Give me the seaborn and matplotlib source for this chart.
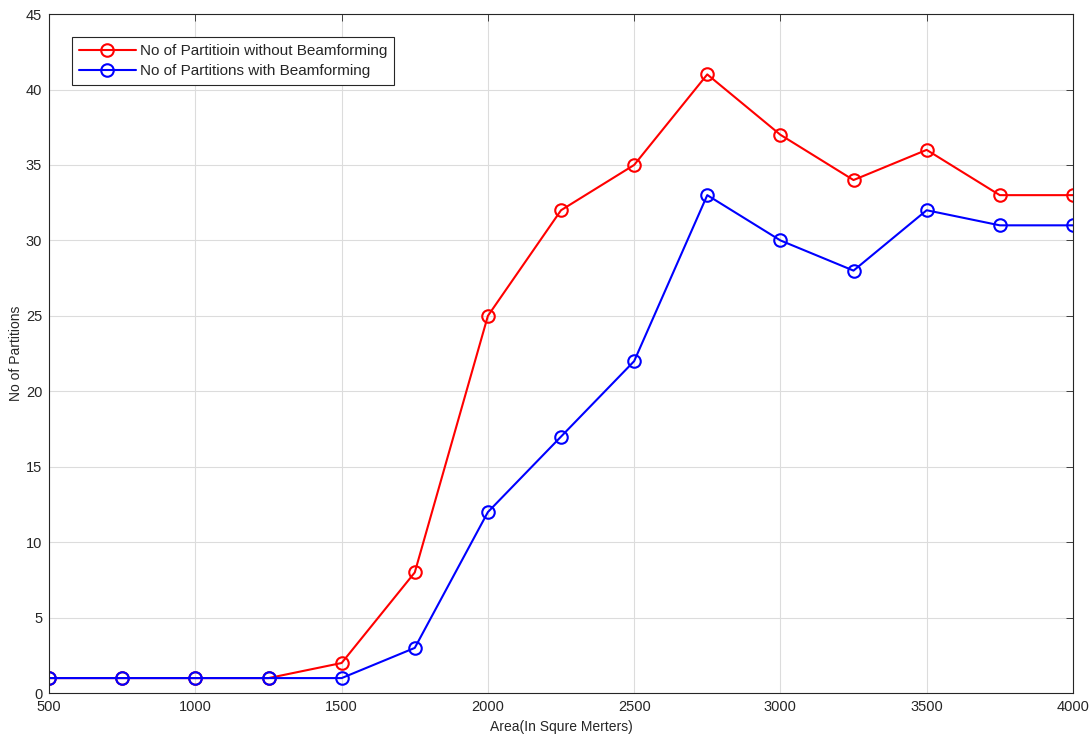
import matplotlib
matplotlib.use("Agg")
import matplotlib.pyplot as plt
import pandas as pd
import seaborn as sns

area = [500, 750, 1000, 1250, 1500, 1750, 2000, 2250, 2500, 2750, 3000, 3250, 3500, 3750, 4000]
without_bf = [1, 1, 1, 1, 2, 8, 25, 32, 35, 41, 37, 34, 36, 33, 33]
with_bf = [1, 1, 1, 1, 1, 3, 12, 17, 22, 33, 30, 28, 32, 31, 31]

label_without = "No of Partitioin without Beamforming"
label_with = "No of Partitions with Beamforming"

df = pd.DataFrame({
    "Area": area * 2,
    "Partitions": without_bf + with_bf,
    "Series": [label_without] * len(area) + [label_with] * len(area),
})

sns.set_style("whitegrid")
plt.rcParams["font.family"] = ["Liberation Sans", "DejaVu Sans"]

fig = plt.figure(figsize=(10.92, 7.39), dpi=100)
ax = fig.add_axes([0.045, 0.062, 0.9375, 0.919])

sns.lineplot(
    data=df,
    x="Area",
    y="Partitions",
    hue="Series",
    palette={label_without: "#ff0000", label_with: "#0000ff"},
    marker="o",
    markersize=9,
    markerfacecolor="none",
    markeredgewidth=1.5,
    linewidth=1.5,
    ax=ax,
)
for line in ax.get_lines():
    line.set_markeredgecolor(line.get_color())

ax.set_xlim(500, 4000)
ax.set_ylim(0, 45)
ax.set_xticks(range(500, 4001, 500))
ax.set_yticks(range(0, 46, 5))
ax.set_xlabel("Area(In Squre Merters)", fontsize=10, labelpad=4)
ax.set_ylabel("No of Partitions", fontsize=10, labelpad=2)
ax.tick_params(axis="both", direction="in", labelsize=10.5, length=5, width=0.6, color="#262626",
               top=True, right=True, labelcolor="#262626", pad=5)
ax.grid(True, color="#dcdcdc", linewidth=0.8)
for spine in ax.spines.values():
    spine.set_color("#262626")
    spine.set_linewidth(0.8)

leg = ax.legend(loc="upper left", bbox_to_anchor=(0.015, 0.977), fontsize=11, frameon=True,
                fancybox=False, edgecolor="#262626", framealpha=1, borderpad=0.45,
                handlelength=3.7, handletextpad=0.3, labelspacing=0.4)
leg.get_frame().set_linewidth(0.8)
for h in leg.get_lines():
    h.set_markerfacecolor("none")
    h.set_markeredgecolor(h.get_color())

fig.savefig("out.png", dpi=100)
